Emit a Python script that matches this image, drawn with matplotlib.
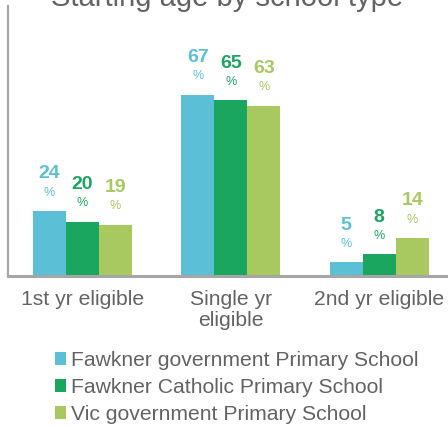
import numpy as np
import matplotlib.pyplot as plt
from matplotlib.patches import Patch

plt.rcParams['font.family'] = ['Liberation Sans', 'DejaVu Sans']

categories = ['1st yr eligible', 'Single yr\neligible', '2nd yr eligible']
schools = ['Fawkner government Primary School',
           'Fawkner Catholic Primary School',
           'Vic government Primary School']
fawkner_gov = [24, 67, 5]
fawkner_cath = [20, 65, 8]
vic_gov = [19, 63, 14]
colors = ['#5BC0D5', '#1BA660', '#A7C960']
grey = '#636363'

W, H = 448, 427
fig = plt.figure(figsize=(W / 100, H / 100 + 0.004), dpi=100)
# axes runs off the right edge like the original
ax = fig.add_axes([8 / W, 1 - 276 / H, 445.5 / W, 270 / H])

x = np.arange(len(categories))
bw = 0.222
series = [fawkner_gov, fawkner_cath, vic_gov]
for i, (vals, c) in enumerate(zip(series, colors)):
    pos = x + (i - 1) * bw
    ax.bar(pos, vals, width=bw, color=c, zorder=2)
    for px, v in zip(pos, vals):
        ax.annotate(str(v), (px, v), xytext=(0, 27), textcoords='offset points',
                    ha='center', va='center', fontsize=14, fontweight='bold', color=c)
        ax.annotate('%', (px, v), xytext=(0, 13.5), textcoords='offset points',
                    ha='center', va='center', fontsize=9, color=c)

ax.set_xlim(-0.5, 2.5)
ax.set_ylim(0, 100)
ax.set_yticks([])
ax.set_xticks(x)
ax.set_xticklabels(categories, fontsize=15.2, color=grey, linespacing=1.1)
ax.tick_params(axis='x', length=0, pad=10)
for s in ['top', 'right']:
    ax.spines[s].set_visible(False)
ax.spines['left'].set_color('#A6A6A6')
ax.spines['left'].set_linewidth(1.6)
ax.spines['bottom'].set_color('#A6A6A6')
ax.spines['bottom'].set_linewidth(2.2)

# title sits mostly above the top edge, as in the source image
fig.text(227 / W, 1 - 6 / H, 'Starting age by school type', ha='center',
         va='baseline', fontsize=21, color=grey)

handles = [Patch(facecolor=c, edgecolor='none') for c in colors]
fig.legend(handles, schools, loc='upper left', bbox_to_anchor=(55 / W, 1 - 351 / H),
           frameon=False, fontsize=15.2, labelcolor=grey, handlelength=0.52,
           handleheight=0.52, handletextpad=0.24, labelspacing=0.38, borderpad=0,
           borderaxespad=0)

fig.savefig('out.png', dpi=100)
